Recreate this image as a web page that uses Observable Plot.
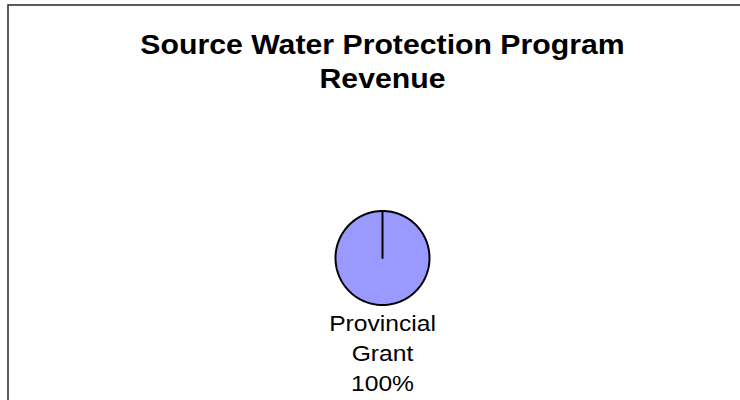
<!DOCTYPE html>
<html><head><meta charset="utf-8">
<script src="https://cdn.jsdelivr.net/npm/d3@7"></script>
<script src="https://cdn.jsdelivr.net/npm/@observablehq/plot@0.6"></script>
<style>html,body{margin:0;padding:0;background:#fff;overflow:hidden}</style>
</head><body><div id="chart"></div>
<script>
const titleLines = ["Source Water Protection Program", "Revenue"];
const categories = ["Provincial Grant"];
const values = [100];
const colors = ["#9999FF"];

const W = 740, H = 400, R = 47, CX = 382, CY = 257.5;
const total = d3.sum(values);
const slices = categories.map((c, i) => ({category: c, value: values[i], color: colors[i]}));
const arcs = d3.pie().sort(null).value(d => d.value)(slices);

// slice outlines: centre -> arc -> centre, in unit (radius = 1) coordinates
const polys = arcs.map((a, k) => {
  const pts = [{x: 0, y: 0}];
  const n = Math.max(2, Math.ceil((a.endAngle - a.startAngle) / (Math.PI / 120)));
  for (let j = 0; j <= n; j++) {
    const t = a.startAngle + (a.endAngle - a.startAngle) * j / n;
    pts.push({x: Math.sin(t), y: Math.cos(t)});
  }
  pts.push({x: 0, y: 0});
  return pts;
});

const labels = arcs.map(a => ({
  text: a.data.category.replace(" ", "\n") + "\n" + d3.format(".0f")(a.data.value / total * 100) + "%"
}));

const chart = Plot.plot({
  width: W, height: H, margin: 0,
  x: {domain: [-CX / R, (W - CX) / R], axis: null},
  y: {domain: [(CY - H) / R, CY / R], axis: null},
  marks: [
    Plot.frame({stroke: "#333", strokeWidth: 1.6, insetLeft: 7.5, insetTop: 4.5, insetRight: -20, insetBottom: -20}),
    ...polys.map((p, k) => Plot.line(p, {x: "x", y: "y", fill: arcs[k].data.color, stroke: "#000", strokeWidth: 2, curve: "linear", strokeLinejoin: "round"})),
    Plot.text(labels, {x: 0, y: -1, text: "text", lineAnchor: "top", dy: 5, fontSize: 22, lineHeight: 1.364, fill: "#000", fontFamily: "Liberation Sans, Arial, sans-serif"}),
    Plot.text([titleLines.join("\n")], {x: 0, frameAnchor: "top", lineAnchor: "top", dy: 29, fontSize: 27, fontWeight: "bold", lineHeight: 1.26, fill: "#000", fontFamily: "Liberation Sans, Arial, sans-serif"})
  ]
});
document.getElementById("chart").appendChild(chart);
// the original chart is slightly stretched horizontally
chart.querySelectorAll("g[aria-label='text'] text").forEach(t => {
  const tr = t.getAttribute("transform") || "";
  t.setAttribute("transform", tr + " scale(1.12,1)");
});
</script>
</body></html>
